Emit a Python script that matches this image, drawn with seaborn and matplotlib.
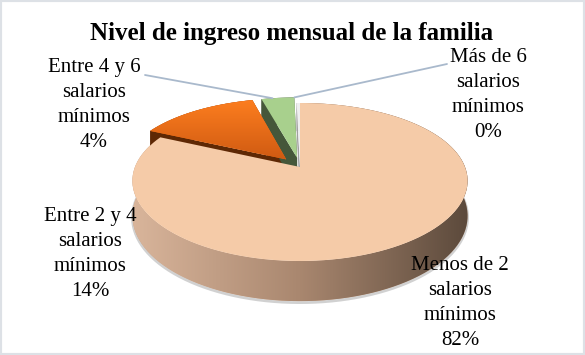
import numpy as np
import matplotlib
matplotlib.use("Agg")
import matplotlib.pyplot as plt
import seaborn as sns
from matplotlib.patches import Polygon, Rectangle

# Chart data
title = "Nivel de ingreso mensual de la familia"
categories = ["Menos de 2\nsalarios\nmínimos", "Entre 2 y 4\nsalarios\nmínimos",
              "Entre 4 y 6\nsalarios\nmínimos", "Más de 6\nsalarios\nmínimos"]
values = [82, 14, 4, 0.4]

# Styling
top_colors = ["#F5CBA8", "#F06F18", "#A8D08D", "#EFEFEF"]
face_colors = ["#C9A58B", "#5E2804", "#45573A", "#A0A0A0"]
explode = [0.0, 0.13, 0.12, 0.0]
label_xy = [(460, 303), (90, 254), (94, 105), (488, 95)]

sns.set_theme(style="white")
plt.rcParams['font.family'] = ['Liberation Serif', 'DejaVu Serif']

# pseudo 3D projection of the pie disc (pixel space)
CX, CY, RX, A, B, C, T0 = 300, 167, 165, 79, 15, 0.18, 34


def proj(u, v, drop=0.0):
    s = 1 - C * v
    return CX + RX * u * s, CY - A * v + B * v ** 2 + drop * T0 * s


fig = plt.figure(figsize=(5.85, 3.55), dpi=100)
ax = fig.add_axes([0, 0, 1, 1])

fracs = np.array(values) / np.sum(values)
edges = 90 - 360 * np.concatenate([[0], np.cumsum(fracs)])

slices = []
for i, f in enumerate(fracs):
    th = np.radians(np.linspace(edges[i], edges[i + 1], 120))
    tm = np.radians((edges[i] + edges[i + 1]) / 2)
    du, dv = explode[i] * np.cos(tm), explode[i] * np.sin(tm)
    u, v = du + np.cos(th), dv + np.sin(th)
    slices.append((du, dv, u, v))

# sides and radial faces first
for i, (du, dv, u, v) in enumerate(slices):
    for k in [0, -1]:
        pts = [proj(du, dv), proj(u[k], v[k]), proj(u[k], v[k], 1), proj(du, dv, 1)]
        ax.add_patch(Polygon(pts, closed=True, facecolor=face_colors[i], edgecolor='none'))
    xt, yt = proj(u, v)
    xb, yb = proj(u, v, 1)
    side = Polygon(np.column_stack([np.r_[xt, xb[::-1]], np.r_[yt, yb[::-1]]]),
                   closed=True, facecolor=face_colors[i], edgecolor='none')
    ax.add_patch(side)
    if i == 0:
        # soft shadow under the body
        ax.plot(xb, yb + 1.5, color='#9a9a9a', lw=2, alpha=0.45, zorder=0.5)
        cmap = sns.blend_palette(["#D9B59B", "#A9876F", "#5C4A3C"], n_colors=256, as_cmap=True)
        im = ax.imshow(np.linspace(0, 1, 256)[None, :], cmap=cmap, aspect='auto',
                       extent=(xt.min(), xt.max(), yb.max() + 2, yt.min()), zorder=1)
        im.set_clip_path(side)

# top faces
for i, (du, dv, u, v) in enumerate(slices):
    xt, yt = proj(u, v)
    x0, y0 = proj(du, dv)
    top = Polygon(np.column_stack([np.r_[x0, xt], np.r_[y0, yt]]), closed=True,
                  facecolor=top_colors[i], edgecolor='none', zorder=2)
    ax.add_patch(top)
    if i == 1:
        cmap = sns.blend_palette(["#FD7E1F", "#CF5A12"], n_colors=256, as_cmap=True)
        im = ax.imshow(np.linspace(0, 1, 256)[:, None], cmap=cmap, aspect='auto',
                       extent=(min(xt.min(), x0), max(xt.max(), x0), y0 + 1, yt.min()), zorder=2.1)
        im.set_clip_path(top)

# leader lines towards the small green slice
du, dv, u, v = slices[2]
p1 = proj(u[40], v[40])
p2 = proj(u[-1], v[-1])
ax.plot([145, p1[0]], [75, p1[1]], color='#A9B9CC', lw=1.3, zorder=3)
ax.plot([447, p2[0]], [64, p2[1]], color='#A9B9CC', lw=1.3, zorder=3)

# labels
for (x, y), cat, f in zip(label_xy, categories, fracs):
    ax.text(x, y, f"{cat}\n{round(f * 100):.0f}%", ha='center', va='center',
            fontsize=15, linespacing=1.42, color='black', zorder=4)

ax.text(292, 40, title, ha='center', va='baseline', fontsize=18,
        fontweight='bold', color='black')

ax.set_xlim(0, 585)
ax.set_ylim(355, 0)
ax.set_aspect('auto')
ax.axis('off')

fig.patches.append(Rectangle((0, 0), 1, 1, transform=fig.transFigure, fill=False,
                             edgecolor='#DDE1E6', lw=3))

plt.savefig('out.png', dpi=100)
